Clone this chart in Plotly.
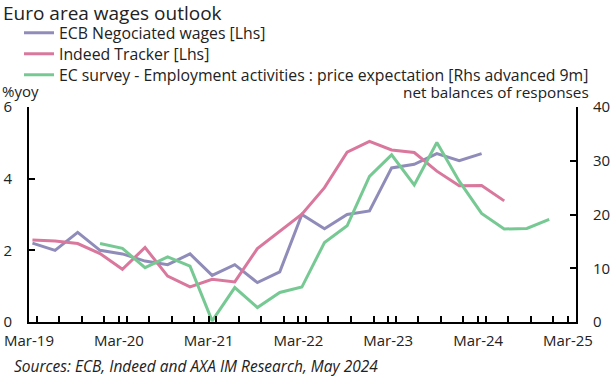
import plotly.graph_objects as go

# Quarterly observation months (Mar-19 .. Dec-24)
quarters = ["2019-03", "2019-06", "2019-09", "2019-12",
            "2020-03", "2020-06", "2020-09", "2020-12",
            "2021-03", "2021-06", "2021-09", "2021-12",
            "2022-03", "2022-06", "2022-09", "2022-12",
            "2023-03", "2023-06", "2023-09", "2023-12",
            "2024-03", "2024-06", "2024-09", "2024-12"]

ecb_wages = [2.2, 2.0, 2.5, 2.0, 1.9, 1.7, 1.6, 1.9, 1.3, 1.6, 1.1, 1.4,
             3.0, 2.6, 3.0, 3.1, 4.3, 4.4, 4.7, 4.5, 4.7, None, None, None]
indeed_tracker = [2.29, 2.26, 2.19, 1.91, 1.47, 2.08, 1.28, 0.98, 1.19, 1.12, 2.05, 2.54,
                  3.01, 3.75, 4.74, 5.04, 4.80, 4.73, 4.21, 3.80, 3.81, 3.38, None, None]
ec_survey = [None, None, None, 14.6, 13.7, 10.1, 12.1, 10.4, 0.2, 6.4, 2.7, 5.5,
             6.5, 14.8, 17.9, 27.1, 31.1, 25.5, 33.4, 26.2, 20.2, 17.3, 17.4, 19.1]

names = ["ECB Negociated wages [Lhs]", "Indeed Tracker [Lhs]",
         "EC survey - Employment activities : price expectation [Rhs advanced 9m]"]
colors = ["#8f8cb9", "#d9789c", "#77c993"]

dates = [q + "-15" for q in quarters]
FONT = "Open Sans"

PL, PR, PT, PB = 29, 576, 107, 322  # plot area in pixels
PW, PH = PR - PL, PB - PT

fig = go.Figure()
fig.add_trace(go.Scatter(x=dates, y=ecb_wages, name=names[0], mode="lines",
                         line=dict(color=colors[0], width=3), legend="legend"))
fig.add_trace(go.Scatter(x=dates, y=indeed_tracker, name=names[1], mode="lines",
                         line=dict(color=colors[1], width=3), legend="legend2"))
fig.add_trace(go.Scatter(x=dates, y=ec_survey, name=names[2], mode="lines",
                         line=dict(color=colors[2], width=3), legend="legend3", yaxis="y2"))


def leg(ycenter):
    return dict(x=(19 - PL) / PW, xanchor="left", y=(PB - ycenter) / PH, yanchor="middle",
                font=dict(family=FONT, size=15.8, color="#222"), bgcolor="rgba(0,0,0,0)")


fig.update_layout(
    width=614, height=379,
    margin=dict(l=PL, r=614 - PR, t=PT, b=379 - PB, autoexpand=False),
    paper_bgcolor="white", plot_bgcolor="white",
    font=dict(family=FONT, size=15, color="#222"),
    title=dict(text="Euro area wages outlook", x=3/614, xanchor="left", xref="container",
               y=1-13/379, yanchor="middle", yref="container",
               font=dict(family=FONT, size=19, color="#222")),
    showlegend=True,
    legend=leg(33), legend2=leg(54), legend3=leg(75),
    xaxis=dict(type="date", range=["2019-03-01", "2025-04-03"], tickformat="%b-%y",
               dtick="M12", tick0="2019-03-01", ticks="inside", ticklen=6, tickwidth=1.5,
               tickcolor="black", showline=True, linecolor="black", linewidth=2,
               showgrid=False, zeroline=False, ticklabelstandoff=4,
               minor=dict(dtick="M3", ticks="inside", ticklen=6,
                          tickwidth=1.5, tickcolor="black", showgrid=False),
               tickfont=dict(size=15)),
    yaxis=dict(range=[0, 6], dtick=2, ticks="inside", ticklen=6, tickwidth=1.5,
               tickcolor="black", showline=True, linecolor="black", linewidth=2,
               showgrid=False, zeroline=False, ticklabelstandoff=12, tickfont=dict(size=15)),
    yaxis2=dict(range=[0, 40], dtick=10, overlaying="y", side="right", ticks="inside",
                ticklen=6, tickwidth=1.5, tickcolor="black", showline=True,
                linecolor="black", linewidth=2, showgrid=False, zeroline=False,
                ticklabelstandoff=12, tickfont=dict(size=15)),
    annotations=[
        dict(text="%yoy", xref="paper", yref="paper", x=-PL/PW, y=(PB-91)/PH,
             xanchor="left", yanchor="middle", showarrow=False, font=dict(size=15)),
        dict(text="net balances of responses", xref="paper", yref="paper",
             x=(591-PL)/PW, y=(PB-92)/PH, xanchor="right", yanchor="middle",
             showarrow=False, font=dict(size=15.3)),
        dict(text="<i>Sources: ECB, Indeed and AXA IM Research, May 2024</i>",
             xref="paper", yref="paper", x=(12-PL)/PW, y=(PB-366)/PH,
             xanchor="left", yanchor="middle", showarrow=False, font=dict(size=15.5)),
    ],
)

fig.write_html("out.html", config={"displayModeBar": False},
               post_script="document.body.style.margin='0';")
